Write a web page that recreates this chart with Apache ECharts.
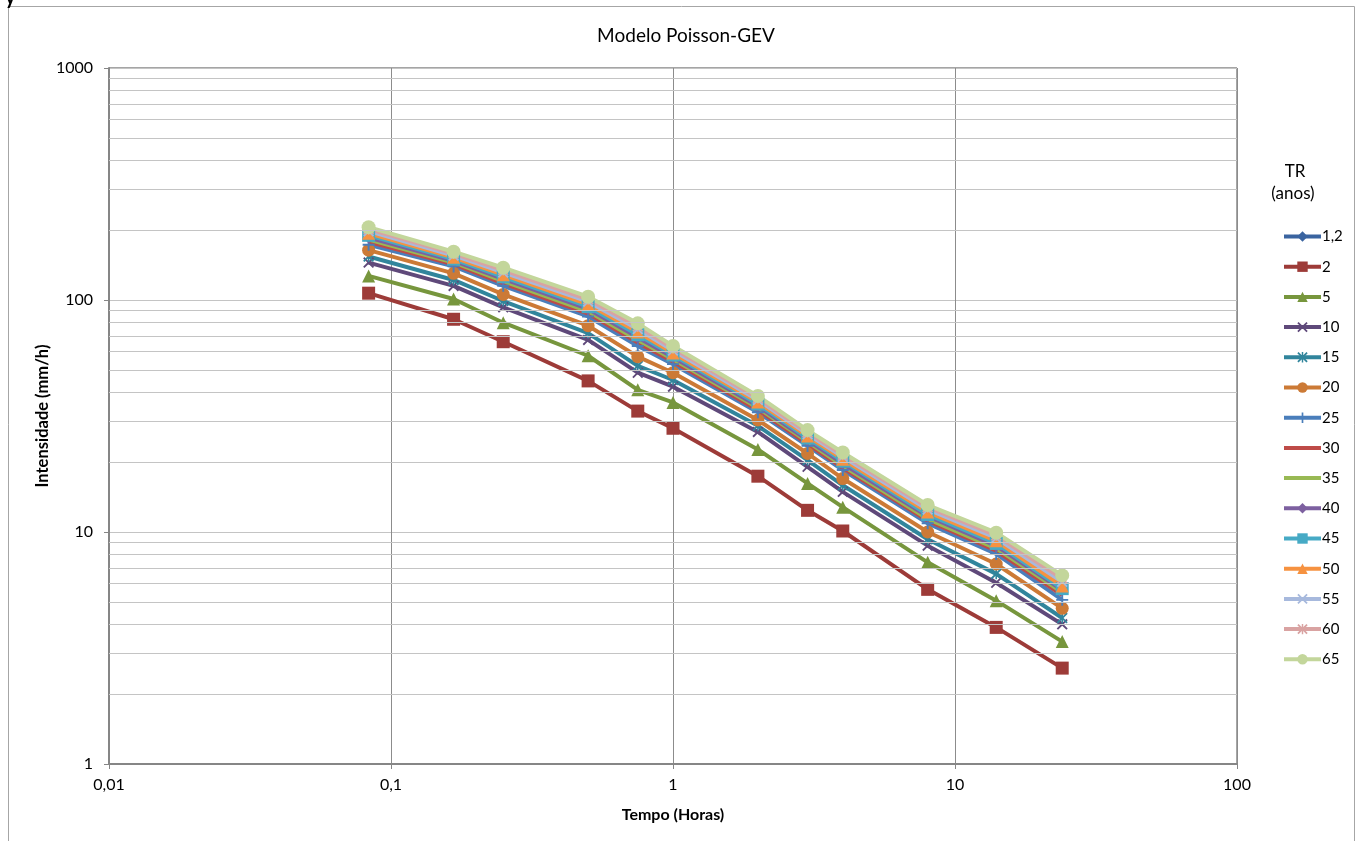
<!DOCTYPE html>
<html>
<head>
<meta charset="utf-8">
<script src="https://cdn.jsdelivr.net/npm/echarts@6/dist/echarts.min.js"></script>
<style>
  html, body { margin: 0; padding: 0; background: #fff; }
  #main { width: 1360px; height: 841px; }
</style>
</head>
<body>
<div id="main"></div>
<script>
// durações (horas)
var duracoes = [0.0833, 0.1667, 0.25, 0.5, 0.75, 1, 2, 3, 4, 8, 14, 24];

// intensidades (mm/h) por TR
var tr1_2 = [];
var tr2 = [107, 82.6, 66.1, 44.8, 33.2, 28.0, 17.4, 12.4, 10.1, 5.66, 3.88, 2.59];
var tr5 = [127, 101, 79.8, 57.5, 41.0, 36.2, 22.7, 16.2, 12.8, 7.4, 5.06, 3.37];
var tr10 = [145, 115, 93, 67.3, 48.6, 42.3, 27.0, 19.1, 14.9, 8.73, 6.04, 4.0];
var tr15 = [154, 122, 99, 72, 52, 45.2, 28.7, 20.4, 15.9, 9.3, 6.6, 4.26];
var tr20 = [164, 130.3, 105.7, 77.5, 57, 48.6, 30.4, 21.8, 17.0, 10.0, 7.28, 4.69];
var tr25 = [173, 139.6, 115.1, 84.9, 63.4, 52.9, 32.8, 23.5, 18.5, 10.9, 8.04, 5.1];
var tr30 = [178, 142.6, 118.0, 87.4, 65.5, 54.3, 33.6, 24.0, 18.9, 11.2, 8.30, 5.35];
var tr35 = [182, 145.1, 120.6, 89.4, 67.2, 55.5, 34.3, 24.5, 19.3, 11.4, 8.50, 5.5];
var tr40 = [186, 147.6, 123.3, 91.5, 69.0, 56.7, 34.9, 24.9, 19.7, 11.7, 8.71, 5.62];
var tr45 = [190, 150.0, 125.9, 93.6, 70.8, 57.9, 35.6, 25.4, 20.2, 11.9, 8.93, 5.7];
var tr50 = [194, 152.8, 128.5, 95.8, 72.8, 59.1, 36.3, 25.9, 20.6, 12.2, 9.16, 5.85];
var tr55 = [198, 155.6, 131.5, 98.4, 75.0, 60.6, 37.1, 26.4, 21.1, 12.5, 9.42, 6.1];
var tr60 = [202, 158.5, 134.6, 100.7, 76.9, 61.9, 37.8, 26.9, 21.5, 12.8, 9.66, 6.3];
var tr65 = [206, 161.5, 137.8, 103.3, 79.3, 63.4, 38.6, 27.5, 22.0, 13.07, 9.93, 6.5];

var nomesTR = ['1,2', '2', '5', '10', '15', '20', '25', '30', '35', '40', '45', '50', '55', '60', '65'];
var valoresTR = [tr1_2, tr2, tr5, tr10, tr15, tr20, tr25, tr30, tr35, tr40, tr45, tr50, tr55, tr60, tr65];

// linhas de grade secundárias do eixo Y
var gradeMenorY = [2, 3, 4, 5, 6, 7, 8, 9, 20, 30, 40, 50, 60, 70, 80, 90, 200, 300, 400, 500, 600, 700, 800, 900];

var xis = 'path://M0,1.2L1.2,0L5,3.8L8.8,0L10,1.2L6.2,5L10,8.8L8.8,10L5,6.2L1.2,10L0,8.8L3.8,5Z';
var asterisco = 'path://M0,1.2L1.2,0L5,3.8L8.8,0L10,1.2L6.2,5L10,8.8L8.8,10L5,6.2L1.2,10L0,8.8L3.8,5Z M4.3,0L5.7,0L5.7,10L4.3,10Z';
var mais = 'path://M4.2,0L5.8,0L5.8,10L4.2,10Z M0,4.2L10,4.2L10,5.8L0,5.8Z';
var soLinha = 'path://M0,0L37,0L37,4L0,4Z';

var cores = ['#3a64a0', '#9d3b38', '#77963d', '#5f497a', '#31859c', '#cc7a36', '#4a7ebb', '#be4b48',
             '#98b954', '#7d60a0', '#46aac5', '#f69240', '#a7b9dd', '#d9a3a2', '#c3d69b'];
var simbolos = ['diamond', 'rect', 'triangle', xis, asterisco, 'circle', mais, 'none',
                'none', 'diamond', 'rect', 'triangle', xis, asterisco, 'circle'];
var tamanhos = [12, 13, 13, 11, 11, 13, 12, 0, 0, 12, 13, 13, 11, 11, 14];

var fonte = 'Lato, "Open Sans", sans-serif';

var series = [{
    name: 'grade',
    type: 'line',
    data: [],
    z: 1,
    silent: true,
    markLine: {
        silent: true,
        symbol: 'none',
        label: { show: false },
        lineStyle: { color: '#c4c4c4', width: 1, type: 'solid' },
        data: gradeMenorY.map(function (v) { return { yAxis: v }; })
    }
}];

nomesTR.forEach(function (nome, i) {
    series.push({
        name: nome,
        type: 'line',
        color: cores[i],
        symbol: simbolos[i],
        symbolSize: tamanhos[i],
        showSymbol: simbolos[i] !== 'none',
        lineStyle: { width: 4, color: cores[i] },
        itemStyle: { color: cores[i] },
        emphasis: { disabled: true },
        animation: false,
        data: valoresTR[i].map(function (v, j) { return [duracoes[j], v]; })
    });
});

var legendaItens = nomesTR.map(function (nome, i) {
    return simbolos[i] === 'none' ? { name: nome, icon: soLinha } : { name: nome };
});

var myChart = echarts.init(document.getElementById('main'));
myChart.setOption({
    animation: false,
    textStyle: { fontFamily: fonte },
    title: {
        text: 'Modelo Poisson-GEV',
        left: 681,
        top: 21,
        textAlign: 'center',
        textStyle: { fontFamily: fonte, fontSize: 19, fontWeight: 'normal', color: '#000' }
    },
    graphic: [
        {
            type: 'rect',
            silent: true,
            shape: { x: 8.5, y: 6.5, width: 1346, height: 850 },
            style: { fill: 'none', stroke: '#a6a6a6', lineWidth: 1 }
        },
        {
            type: 'text',
            x: 5,
            y: -12,
            style: { text: 'y', fontSize: 20, fontWeight: 'bold', fontFamily: fonte, fill: '#000' }
        },
        {
            type: 'text',
            x: 43,
            y: 416,
            rotation: Math.PI / 2,
            style: {
                text: 'Intensidade (mm/h)', fontSize: 16.5, fontWeight: 'bold', fontFamily: fonte,
                fill: '#000', align: 'center', verticalAlign: 'middle'
            }
        },
        {
            type: 'text',
            x: 1295,
            y: 172,
            style: { text: 'TR', fontSize: 17, fontFamily: fonte, fill: '#000', align: 'center', verticalAlign: 'middle' }
        },
        {
            type: 'text',
            x: 1293,
            y: 194,
            style: { text: '(anos)', fontSize: 17, fontFamily: fonte, fill: '#000', align: 'center', verticalAlign: 'middle' }
        }
    ],
    legend: {
        data: legendaItens,
        orient: 'vertical',
        left: 1277,
        top: 224,
        itemWidth: 37,
        itemHeight: 13,
        itemGap: 15.2,
        lineStyle: { width: 4 },
        textStyle: { fontFamily: fonte, fontSize: 15, color: '#000', padding: [0, 0, 0, -4] },
        selectedMode: false
    },
    grid: {
        left: 109,
        top: 68,
        right: 123,
        bottom: 77,
        show: true,
        borderColor: '#4a4a4a',
        borderWidth: 1
    },
    xAxis: {
        type: 'log',
        logBase: 10,
        min: 0.01,
        max: 100,
        name: 'Tempo (Horas)',
        nameLocation: 'middle',
        nameGap: 43,
        nameTextStyle: { fontFamily: fonte, fontSize: 16, fontWeight: 'bold', color: '#000' },
        axisLine: { show: true, lineStyle: { color: '#868686', width: 2 } },
        axisTick: { show: true, length: 5, lineStyle: { color: '#868686' } },
        axisLabel: {
            margin: 13,
            fontSize: 16,
            color: '#000',
            fontFamily: fonte,
            formatter: function (v) { return String(Number(v.toPrecision(3))).replace('.', ','); }
        },
        splitLine: { show: true, lineStyle: { color: '#8c8c8c', width: 1 } },
        minorTick: { show: false },
        minorSplitLine: { show: false }
    },
    yAxis: {
        type: 'log',
        logBase: 10,
        min: 1,
        max: 1000,
        axisLine: { show: true, lineStyle: { color: '#868686', width: 2 } },
        axisTick: { show: true, length: 5, lineStyle: { color: '#868686' } },
        axisLabel: {
            margin: 16,
            fontSize: 16,
            color: '#000',
            fontFamily: fonte,
            formatter: function (v) { return String(Number(v.toPrecision(4))); }
        },
        splitLine: { show: true, lineStyle: { color: '#c4c4c4', width: 1 } }
    },
    series: series
});
</script>
</body>
</html>
